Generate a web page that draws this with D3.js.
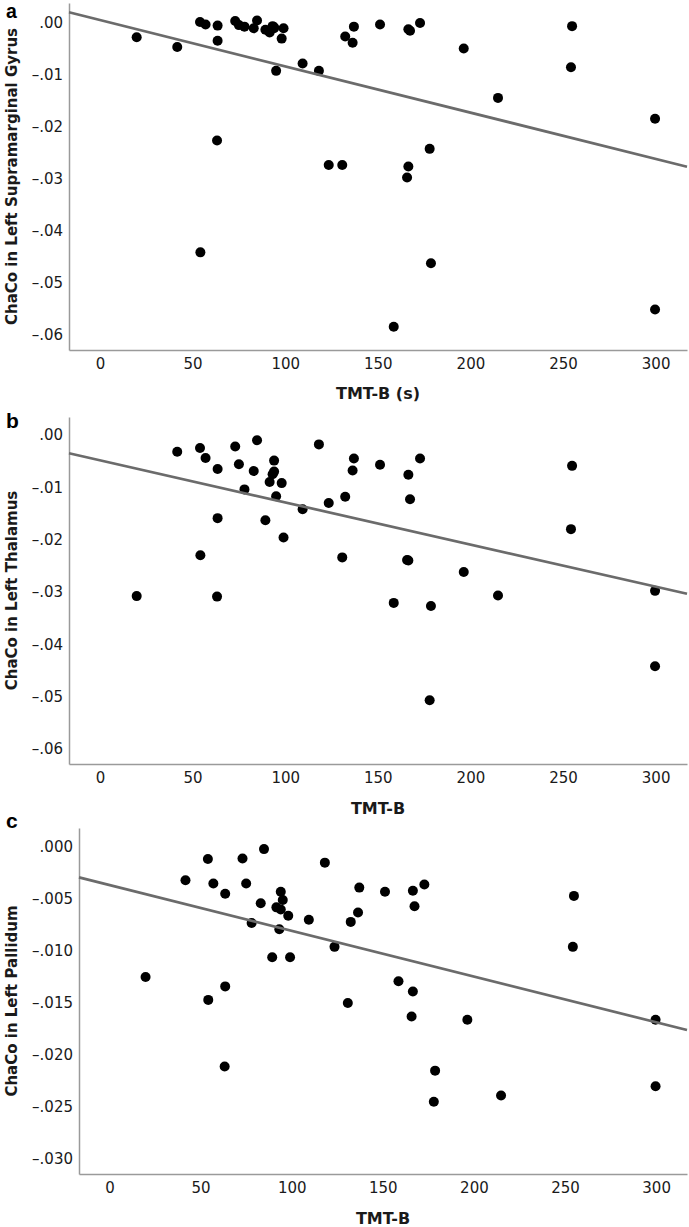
<!DOCTYPE html>
<html>
<head>
<meta charset="utf-8">
<script src="https://cdn.jsdelivr.net/npm/d3@7"></script>
<style>
  html, body { margin: 0; padding: 0; background: #fff; }
  svg { display: block; }
</style>
</head>
<body>
<div id="chart"></div>
<script>
// ---- Data ----
const tmtB = [19.8, 41.7, 54.0, 54.2, 57.0, 63.5, 63.5, 63.2, 73.0, 75.0, 78.0, 83.0, 84.8, 89.3, 91.6,
  93.2, 94.0, 94.0, 95.1, 98.1, 99.1, 109.4, 118.2, 123.5, 130.8, 132.4, 136.4, 137.1, 151.2, 158.6,
  165.8, 166.5, 166.5, 167.4, 172.8, 178.0, 178.7, 196.4, 214.9, 254.3, 254.9, 299.7, 299.7];

const chacoSupramarginal = [-0.00275, -0.0046, 0.0002, -0.0441, -0.0003, -0.0005, -0.0034, -0.0226, 0.0004, -0.0004,
  -0.0007, -0.0010, 0.0005, -0.0013, -0.0018, -0.0006, -0.0010, -0.0008, -0.0092, -0.0030, -0.0010,
  -0.0078, -0.0092, -0.0273, -0.0273, -0.0026, -0.0038, -0.0007, -0.0003, -0.0584, -0.0297, -0.0012,
  -0.0276, -0.0015, 0.0000, -0.0242, -0.0462, -0.0049, -0.0144, -0.0085, -0.0006, -0.0184, -0.0551];

const chacoThalamus = [-0.0308, -0.0032, -0.0025, -0.0230, -0.0044, -0.0065, -0.0159, -0.0309, -0.0022, -0.0056,
  -0.0104, -0.0069, -0.0010, -0.0163, -0.0090, -0.0075, -0.0070, -0.0049, -0.0117, -0.0092, -0.0196,
  -0.0142, -0.0018, -0.0130, -0.0234, -0.0118, -0.0068, -0.0045, -0.0057, -0.0321, -0.0239, -0.0076,
  -0.0240, -0.0123, -0.0045, -0.0507, -0.0327, -0.0262, -0.0307, -0.0180, -0.0059, -0.0298, -0.0442];

const chacoPallidum = [-0.0125, -0.0032, -0.00115, -0.0147, -0.0035, -0.0045, -0.0134, -0.0211, -0.0011, -0.0035,
  -0.0073, -0.0054, -0.0002, -0.0106, -0.0058, -0.0079, -0.0060, -0.0043, -0.0051, -0.0066, -0.0106,
  -0.0070, -0.0015, -0.0096, -0.0150, -0.0072, -0.0063, -0.0039, -0.0043, -0.0129, -0.0163, -0.0042,
  -0.0139, -0.0057, -0.0036, -0.0245, -0.0215, -0.0166, -0.0239, -0.0096, -0.0047, -0.0166, -0.0230];

// fitted line: [intercept, slope]
const fitSupramarginal = [0.00057, -0.0000890];
const fitThalamus = [-0.00484, -0.0000805];
const fitPallidum = [-0.00365, -0.0000440];

const xTicks = [0, 50, 100, 150, 200, 250, 300];
const yTicksSupramarginal = [0, -0.01, -0.02, -0.03, -0.04, -0.05, -0.06];
const yTicksThalamus = [0, -0.01, -0.02, -0.03, -0.04, -0.05, -0.06];
const yTicksPallidum = [0, -0.005, -0.010, -0.015, -0.020, -0.025, -0.030];

const panelLetters = ["a", "b", "c"];
const yTitles = ["ChaCo in Left Supramarginal Gyrus", "ChaCo in Left Thalamus", "ChaCo in Left Pallidum"];
const xTitles = ["TMT-B (s)", "TMT-B", "TMT-B"];

// ---- Layout ----
const W = 689, H = 1227;
const svg = d3.select("#chart").append("svg").attr("width", W).attr("height", H);

const panels = [
  { ys: chacoSupramarginal, fit: fitSupramarginal, yTicks: yTicksSupramarginal, dec: 2,
    yDomain: [-0.06288, 0.00385], xRange: [69, 687], yRange: [350, 3], letterY: 18 },
  { ys: chacoThalamus, fit: fitThalamus, yTicks: yTicksThalamus, dec: 2,
    yDomain: [-0.0629, 0.00344], xRange: [69, 687], yRange: [764, 417], letterY: 428 },
  { ys: chacoPallidum, fit: fitPallidum, yTicks: yTicksPallidum, dec: 3,
    yDomain: [-0.03144, 0.00183], xRange: [79, 687], yRange: [1174, 828], letterY: 828 }
];

const xDomain = [-16.74, 316.95];
const axisColor = "#9a9a9a";
const textColor = "#1a1a1a";
const tickFont = "DejaVu Sans, sans-serif";

function spssFormat(dec) {
  return v => {
    const s = Math.abs(v).toFixed(dec).replace(/^0\./, ".");
    return (v < 0 ? "\u2013" : "") + s;
  };
}

panels.forEach((p, i) => {
  const x = d3.scaleLinear().domain(xDomain).range(p.xRange);
  const y = d3.scaleLinear().domain(p.yDomain).range(p.yRange);
  const g = svg.append("g");

  // y axis
  const yAxis = d3.axisLeft(y).tickValues(p.yTicks).tickSizeInner(0).tickSizeOuter(0)
    .tickPadding(6).tickFormat(spssFormat(p.dec));
  const ya = g.append("g").attr("transform", `translate(${p.xRange[0]},0)`).call(yAxis);
  ya.select(".domain").attr("stroke", axisColor).attr("stroke-width", 1.5);
  ya.selectAll("text").attr("font-family", tickFont).attr("font-size", 15).attr("fill", textColor);

  // x axis
  const xAxis = d3.axisBottom(x).tickValues(xTicks).tickSizeInner(0).tickSizeOuter(0)
    .tickPadding(8).tickFormat(d3.format("d"));
  const xa = g.append("g").attr("transform", `translate(0,${p.yRange[0]})`).call(xAxis);
  xa.select(".domain").attr("stroke", axisColor).attr("stroke-width", 1.5);
  xa.selectAll("text").attr("font-family", tickFont).attr("font-size", 15).attr("fill", textColor)
    .attr("dy", null).attr("y", 19).attr("dominant-baseline", "alphabetic");

  // points
  g.append("g").selectAll("circle").data(tmtB.map((t, k) => [t, p.ys[k]])).join("circle")
    .attr("cx", d => x(d[0])).attr("cy", d => y(d[1])).attr("r", 5).attr("fill", "#000");

  // fit line
  const x0 = xDomain[0], x1 = xDomain[1];
  g.append("line")
    .attr("x1", x(x0)).attr("y1", y(p.fit[0] + p.fit[1] * x0))
    .attr("x2", x(x1)).attr("y2", y(p.fit[0] + p.fit[1] * x1))
    .attr("stroke", "#6b6b6b").attr("stroke-width", 2.7);

  // titles
  const cy = (p.yRange[0] + p.yRange[1]) / 2;
  g.append("text").attr("transform", `translate(17,${cy}) rotate(-90)`)
    .attr("text-anchor", "middle").attr("font-family", tickFont).attr("font-weight", "bold")
    .attr("font-size", 15).attr("fill", textColor).text(yTitles[i]);
  const cx = (p.xRange[0] + p.xRange[1]) / 2;
  const xTitleY = [399, 814, 1224][i];
  g.append("text").attr("x", cx).attr("y", xTitleY)
    .attr("text-anchor", "middle").attr("font-family", tickFont).attr("font-weight", "bold")
    .attr("font-size", 16).attr("fill", textColor).text(xTitles[i]);

  // panel letter
  g.append("text").attr("x", 6).attr("y", p.letterY)
    .attr("font-family", "Liberation Sans, Arial, sans-serif").attr("font-weight", "bold")
    .attr("font-size", i === 0 ? 19.5 : 21).attr("fill", "#000").text(panelLetters[i]);
});
</script>
</body>
</html>
